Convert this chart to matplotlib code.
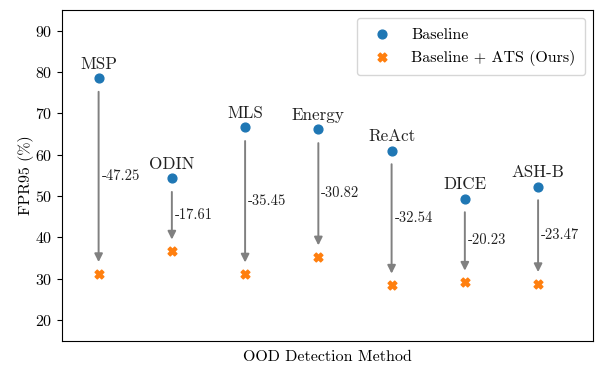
import matplotlib
matplotlib.use('Agg')
import matplotlib.pyplot as plt

plt.rcParams['font.family'] = ['cmr10', 'DejaVu Serif']
plt.rcParams['axes.unicode_minus'] = False
plt.rcParams['axes.formatter.use_mathtext'] = True

methods = ['MSP', 'ODIN', 'MLS', 'Energy', 'ReAct', 'DICE', 'ASH-B']
baseline = [78.5, 54.3, 66.6, 66.1, 61.0, 49.4, 52.3]
ours = [31.25, 36.69, 31.15, 35.28, 28.46, 29.17, 28.83]

fig, ax = plt.subplots(figsize=(5.96, 3.65), dpi=100)
fig.subplots_adjust(left=0.104, right=0.995, top=0.973, bottom=0.066)

x = list(range(len(methods)))
ax.scatter(x, baseline, color='#1f77b4', s=40, marker='o', label='Baseline', zorder=3)
ax.scatter(x, ours, color='#ff7f0e', s=40, marker='X', label='Baseline + ATS (Ours)', zorder=3)

for i, m in enumerate(methods):
    b, o = baseline[i], ours[i]
    ax.annotate('', xy=(i, o + 2.8), xytext=(i, b - 3.3),
                arrowprops=dict(arrowstyle='-|>', color='gray', lw=1.4,
                                mutation_scale=12, shrinkA=0, shrinkB=0))
    ax.text(i + 0.04, (b + o) / 2, '-%.2f' % (b - o), fontsize=10.5,
            ha='left', va='center', color='#222222')
    ax.text(i, b + 1.5, m, fontsize=12.3, ha='center', va='bottom', color='#222222')

ax.set_xticks([])
ax.set_xlim(-0.5, 6.75)
ax.set_ylim(15, 95)
ax.set_yticks([20, 30, 40, 50, 60, 70, 80, 90])
ax.tick_params(axis='y', labelsize=11.5)
ax.set_xlabel('OOD Detection Method', fontsize=11.5, labelpad=7)
ax.set_ylabel('FPR95 (%)', fontsize=11.5, labelpad=1)
ax.legend(loc='upper right', fontsize=11.5, borderpad=0.6, handletextpad=0.8)

fig.savefig('out.png')
